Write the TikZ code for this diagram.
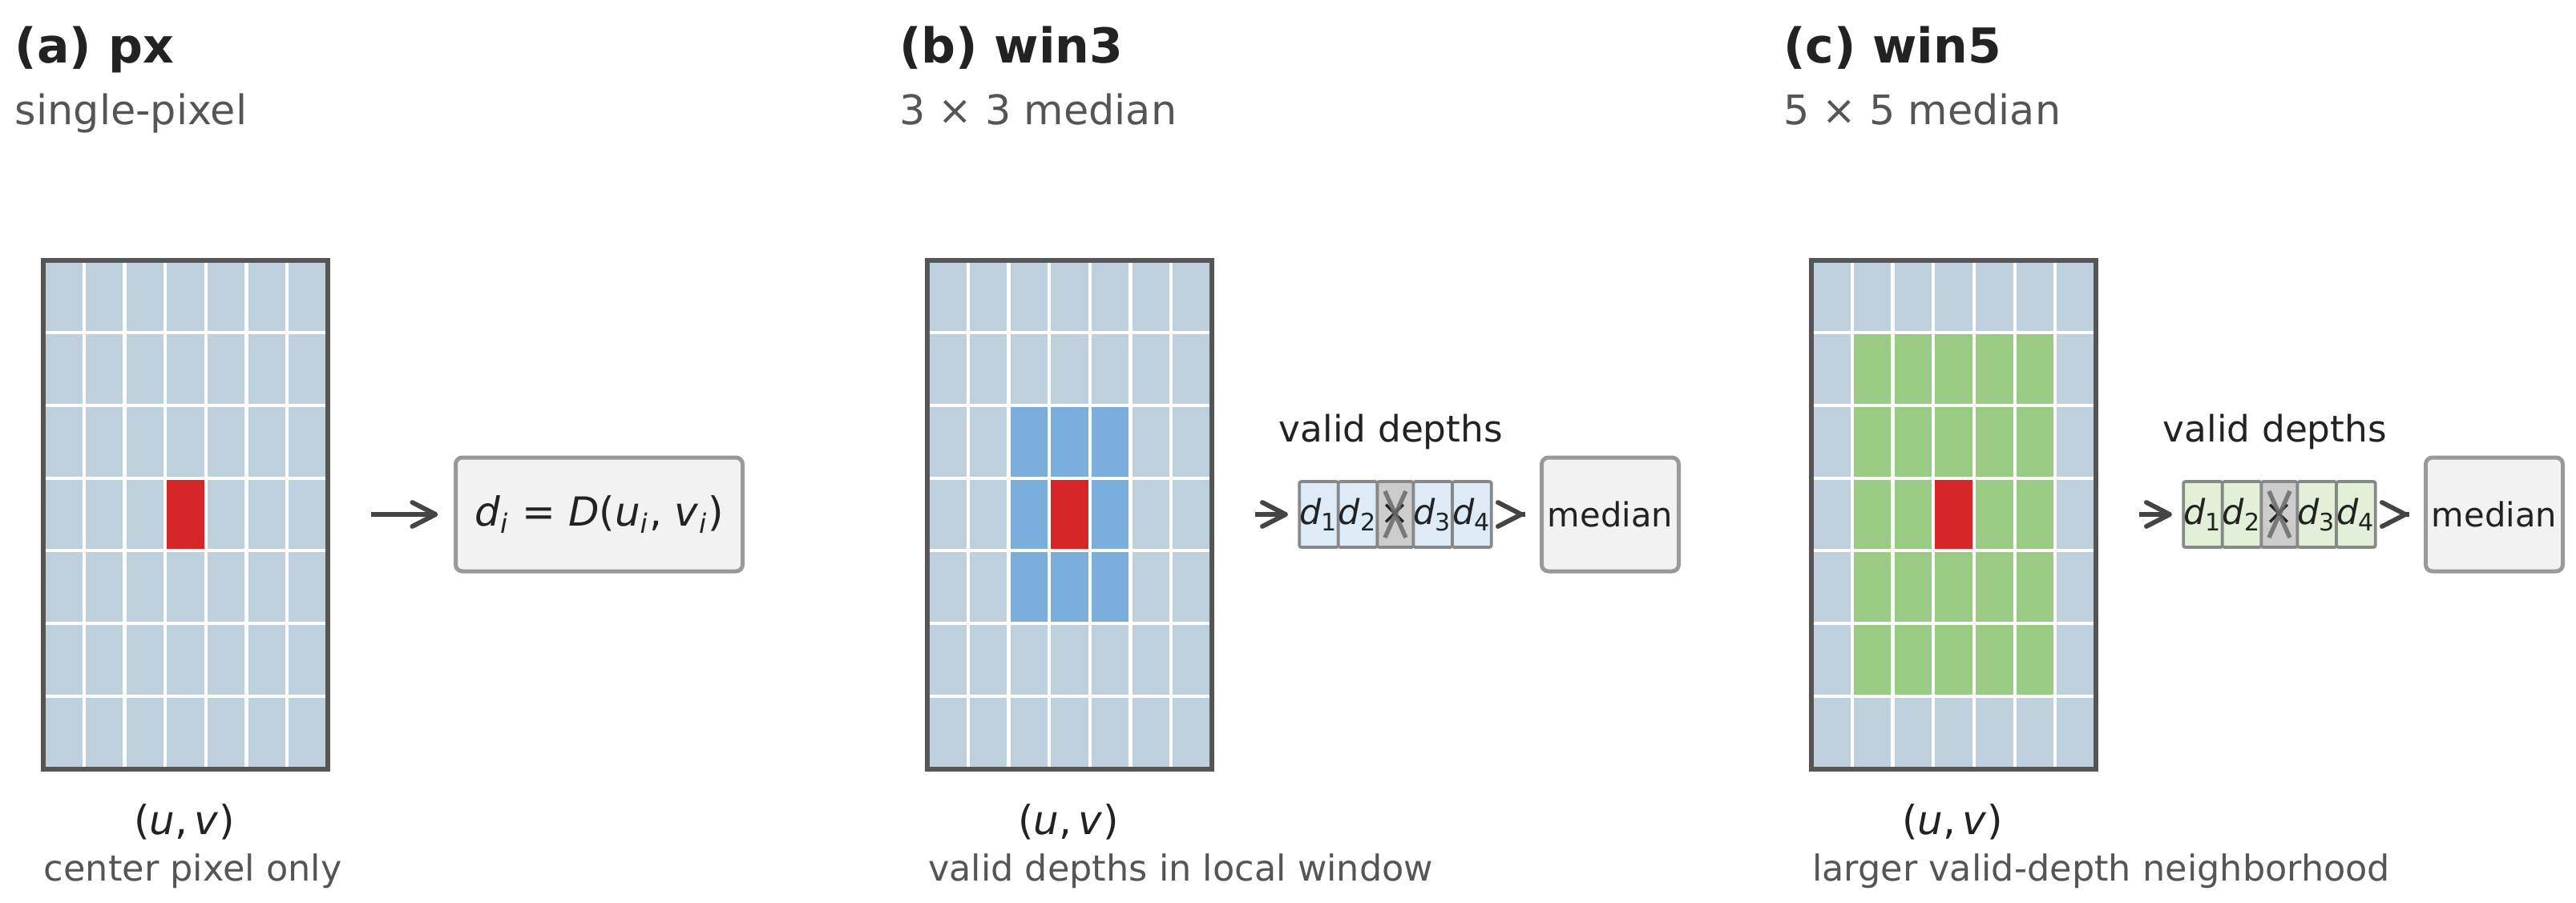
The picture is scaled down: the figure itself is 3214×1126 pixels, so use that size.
\documentclass[tikz,border=0pt]{standalone}
\usepackage{fontspec}
\setmainfont{DejaVu Sans}
\usetikzlibrary{positioning,arrows.meta}

\definecolor{cellbg}{HTML}{BFD0DD}
\definecolor{winblue}{HTML}{7AAEDB}
\definecolor{wingreen}{HTML}{9ACB85}
\definecolor{centerred}{HTML}{D62728}
\definecolor{framegray}{HTML}{555555}
\definecolor{boxgray}{HTML}{999999}
\definecolor{boxfill}{HTML}{F2F2F2}
\definecolor{depthblue}{HTML}{DDEBF7}
\definecolor{depthgreen}{HTML}{E2F0DA}
\definecolor{depthborder}{HTML}{888888}
\definecolor{dropgray}{HTML}{CCCCCC}
\definecolor{crossgray}{HTML}{6A6A6A}
\definecolor{textdark}{HTML}{222222}
\definecolor{textgray}{HTML}{555555}
\definecolor{arrowgray}{HTML}{444444}

\newcommand{\dsub}[2]{\textit{#1}\textsubscript{#2}}

\begin{document}
\begin{tikzpicture}[
        x=0.24pt, y=-0.24pt,
        every node/.style={inner sep=0pt, outer sep=0pt, text=textdark},
        title/.style={anchor=base west, font=\fontsize{14.4}{16}\selectfont\bfseries},
        subtitle/.style={anchor=base west, text=textgray, font=\fontsize{12.2}{14}\selectfont},
        caption/.style={anchor=base west, text=textgray, font=\fontsize{10.7}{12}\selectfont},
        uvlabel/.style={anchor=base, font=\fontsize{12}{14}\selectfont},
        gridframe/.style={draw=framegray, line width=1.44pt, minimum width=85.2pt, minimum height=152.4pt},
        pixel/.style={draw=white, line width=1pt},
        resultbox/.style={draw=boxgray, fill=boxfill, line width=1.2pt, rounded corners=2pt, minimum height=34.08pt},
        depthcell/.style={draw=depthborder, line width=0.9pt, rounded corners=0.6pt, minimum width=10.8pt, minimum height=19.68pt, font=\fontsize{10.3}{12}\selectfont},
        flow/.style={draw=arrowgray, line width=1.4pt, -{Straight Barb[length=7pt, width=7.2pt, round]}},
    ]
    \tikzstyle{crossout}=[draw=crossgray, line width=1.3pt, opacity=0.85]
    \useasboundingbox (0,0) rectangle (3214,1126);

    \foreach \p/\k/\hl in {0/0/centerred,1/1/winblue,2/2/wingreen}{
        \foreach \c in {0,...,6}{
            \foreach \r in {0,...,6}{
                \pgfmathtruncatemacro{\dst}{max(abs(\c-3),abs(\r-3))}
                \ifnum\dst>\k \def\fc{cellbg}\else\def\fc{\hl}\fi
                \ifnum\dst=0 \def\fc{centerred}\fi
                \fill[pixel, fill=\fc] (54+\p*1103+\c*50.714, 324.5+\r*90.714) rectangle ++(50.714, 90.714);
            }
        }
        \node[gridframe] (grid\p) at (231.5+\p*1103, 642) {};
        \node[uvlabel] (uv\p) at (230+\p*1103, 1041) {(\textit{u},\,\textit{v})};
    }

    \node[title] (ta) at (19,78) {(a) px};
    \node[subtitle] (sa) at (19,155) {single-pixel};
    \node[title] (tb) at (1122,78) {(b) win3};
    \node[subtitle] (sb) at (1122,155) {3 × 3 median};
    \node[title] (tc) at (2225,78) {(c) win5};
    \node[subtitle] (sc) at (2225,155) {5 × 5 median};

    \node[resultbox, minimum width=85.92pt, font=\fontsize{12}{14}\selectfont] (boxa) at (747.5,642)
        {\dsub{d}{\textit{i}} = \textit{D}(\dsub{u}{\textit{i}}, \dsub{v}{\textit{i}})};
    \draw[flow, shorten <=12.96pt, shorten >=5.3pt] (grid0) -- (boxa);

    \foreach \p/\fillc in {1/depthblue,2/depthgreen}{
        \node[depthcell, fill=\fillc] (d\p-1) at (1645.5+\p*1103-1103, 642) {\dsub{d}{1}};
        \node[depthcell, fill=\fillc, right=0pt of d\p-1] (d\p-2) {\dsub{d}{2}};
        \node[depthcell, fill=dropgray, right=0pt of d\p-2] (d\p-x) {×};
        \node[depthcell, fill=\fillc, right=0pt of d\p-x] (d\p-3) {\dsub{d}{3}};
        \node[depthcell, fill=\fillc, right=0pt of d\p-3] (d\p-4) {\dsub{d}{4}};
        \draw[crossout] (d\p-x.center) +(-13,-29) -- +(13,29) +(-13,29) -- +(13,-29);
        \node[anchor=base, font=\fontsize{10.9}{12}\selectfont] (vd\p) at (1735.5+\p*1103-1103, 551) {valid depths};
        \node[resultbox, minimum width=41.04pt, font=\fontsize{10}{12}\selectfont] (med\p) at (2009+\p*1103-1103, 642) {median};
        \draw[flow, shorten <=12.96pt, shorten >=3.4pt] (grid\p) -- (d\p-1);
        \draw[flow, shorten <=10.1pt, shorten >=5.4pt] (d\p-4) -- (med\p);
    }

    \node[caption] (ca) at (55,1099) {center pixel only};
    \node[caption] (cb) at (1158,1099) {valid depths in local window};
    \node[caption] (cc) at (2261,1099) {larger valid-depth neighborhood};
\end{tikzpicture}
\end{document}
